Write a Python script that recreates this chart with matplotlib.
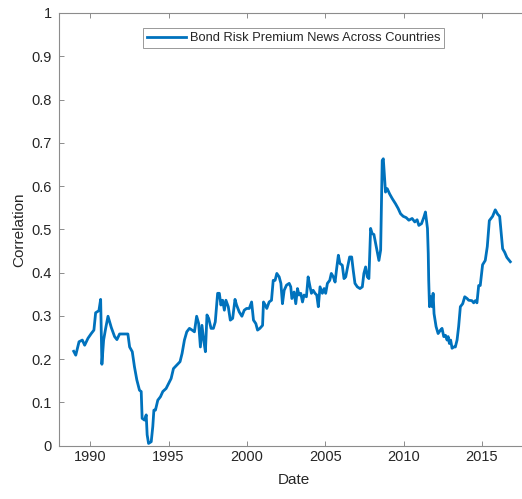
import matplotlib.pyplot as plt

plt.rcParams['font.family'] = ['Liberation Sans', 'DejaVu Sans']

# monthly correlation of bond risk premium news across countries
dates = [
    1988.94, 1989.07, 1989.28, 1989.49, 1989.64, 1989.85, 1990.06, 1990.23, 1990.34, 1990.55,
    1990.66, 1990.74, 1990.85, 1990.98, 1991.13, 1991.34, 1991.55, 1991.70, 1991.87, 1992.40,
    1992.51, 1992.68, 1992.82, 1992.97, 1993.14, 1993.25, 1993.31, 1993.46, 1993.57, 1993.63,
    1993.72, 1993.89, 1993.99, 1994.06, 1994.16, 1994.31, 1994.48, 1994.63, 1994.84, 1995.01,
    1995.16, 1995.31, 1995.52, 1995.73, 1995.86, 1996.01, 1996.16, 1996.33, 1996.50, 1996.65,
    1996.79, 1996.92, 1997.03, 1997.13, 1997.24, 1997.35, 1997.45, 1997.56, 1997.71, 1997.86,
    1997.98, 1998.13, 1998.24, 1998.34, 1998.45, 1998.56, 1998.66, 1998.81, 1998.94, 1999.09,
    1999.24, 1999.34, 1999.51, 1999.68, 1999.83, 1999.98, 2000.15, 2000.30, 2000.42, 2000.57,
    2000.68, 2000.83, 2001.00, 2001.06, 2001.17, 2001.27, 2001.42, 2001.57, 2001.68, 2001.80,
    2001.91, 2002.06, 2002.17, 2002.27, 2002.38, 2002.53, 2002.70, 2002.80, 2002.87, 2003.01,
    2003.12, 2003.23, 2003.33, 2003.44, 2003.55, 2003.65, 2003.80, 2003.91, 2004.01, 2004.12,
    2004.23, 2004.35, 2004.46, 2004.56, 2004.67, 2004.82, 2004.93, 2005.03, 2005.14, 2005.29,
    2005.39, 2005.52, 2005.63, 2005.73, 2005.84, 2005.94, 2006.09, 2006.20, 2006.31, 2006.41,
    2006.56, 2006.69, 2006.79, 2006.90, 2007.05, 2007.22, 2007.37, 2007.47, 2007.58, 2007.69,
    2007.79, 2007.90, 2008.00, 2008.11, 2008.22, 2008.43, 2008.54, 2008.64, 2008.71, 2008.79,
    2008.85, 2008.96, 2009.11, 2009.28, 2009.49, 2009.66, 2009.81, 2009.98, 2010.17, 2010.34,
    2010.55, 2010.72, 2010.87, 2010.98, 2011.15, 2011.30, 2011.40, 2011.53, 2011.58, 2011.61,
    2011.66, 2011.74, 2011.83, 2011.89, 2011.95, 2012.08, 2012.21, 2012.36, 2012.46, 2012.57,
    2012.68, 2012.78, 2012.85, 2012.93, 2013.01, 2013.10, 2013.21, 2013.31, 2013.42, 2013.52,
    2013.63, 2013.78, 2013.91, 2014.06, 2014.16, 2014.37, 2014.48, 2014.59, 2014.69, 2014.80,
    2014.90, 2015.05, 2015.22, 2015.35, 2015.48, 2015.69, 2015.86, 2016.01, 2016.14, 2016.24,
    2016.33, 2016.46, 2016.60, 2016.82,
]
correlation = [
    0.218, 0.209, 0.240, 0.244, 0.232, 0.248, 0.259, 0.267, 0.307, 0.312,
    0.338, 0.188, 0.244, 0.271, 0.299, 0.273, 0.252, 0.245, 0.258, 0.258,
    0.228, 0.217, 0.182, 0.152, 0.128, 0.125, 0.063, 0.059, 0.071, 0.025,
    0.005, 0.009, 0.044, 0.082, 0.082, 0.105, 0.113, 0.125, 0.132, 0.144,
    0.155, 0.178, 0.186, 0.194, 0.213, 0.244, 0.263, 0.271, 0.267, 0.263,
    0.299, 0.282, 0.228, 0.278, 0.244, 0.217, 0.302, 0.294, 0.271, 0.271,
    0.286, 0.352, 0.352, 0.325, 0.336, 0.313, 0.336, 0.321, 0.290, 0.294,
    0.338, 0.325, 0.309, 0.299, 0.313, 0.317, 0.317, 0.332, 0.290, 0.282,
    0.267, 0.271, 0.278, 0.332, 0.325, 0.317, 0.332, 0.336, 0.382, 0.382,
    0.398, 0.390, 0.375, 0.328, 0.359, 0.371, 0.375, 0.367, 0.340, 0.355,
    0.328, 0.363, 0.348, 0.352, 0.332, 0.348, 0.344, 0.390, 0.371, 0.352,
    0.359, 0.352, 0.348, 0.321, 0.367, 0.352, 0.363, 0.352, 0.375, 0.382,
    0.398, 0.390, 0.378, 0.409, 0.440, 0.421, 0.417, 0.386, 0.390, 0.409,
    0.436, 0.436, 0.405, 0.375, 0.367, 0.363, 0.367, 0.398, 0.413, 0.390,
    0.386, 0.502, 0.490, 0.488, 0.467, 0.428, 0.452, 0.659, 0.663, 0.621,
    0.586, 0.594, 0.582, 0.571, 0.559, 0.548, 0.536, 0.530, 0.527, 0.521,
    0.525, 0.517, 0.522, 0.509, 0.513, 0.528, 0.540, 0.502, 0.444, 0.382,
    0.321, 0.344, 0.321, 0.352, 0.305, 0.275, 0.259, 0.267, 0.271, 0.252,
    0.255, 0.244, 0.252, 0.236, 0.244, 0.225, 0.228, 0.228, 0.244, 0.275,
    0.321, 0.328, 0.344, 0.340, 0.336, 0.335, 0.330, 0.335, 0.330, 0.370,
    0.370, 0.418, 0.428, 0.460, 0.520, 0.530, 0.545, 0.535, 0.530, 0.490,
    0.455, 0.447, 0.435, 0.425,
]

x_ticks = [1990, 1995, 2000, 2005, 2010, 2015]
y_ticks = [0, 0.1, 0.2, 0.3, 0.4, 0.5, 0.6, 0.7, 0.8, 0.9, 1]
y_labels = ['0', '0.1', '0.2', '0.3', '0.4', '0.5', '0.6', '0.7', '0.8', '0.9', '1']

fig = plt.figure(figsize=(5.22, 4.99), dpi=100)
ax = fig.add_axes([0.113, 0.107, 0.900, 0.867])

ax.plot(dates, correlation, color='#0072BD', linewidth=2.0,
        label='Bond Risk Premium News Across Countries')

ax.set_xlim(1988, 2018)
ax.set_ylim(0, 1)
ax.set_xticks(x_ticks)
ax.set_yticks(y_ticks)
ax.set_yticklabels(y_labels)

axis_grey = '#8c8c8c'
for side in ['left', 'bottom', 'top', 'right']:
    ax.spines[side].set_color(axis_grey)
    ax.spines[side].set_linewidth(0.8)
ax.tick_params(direction='in', length=3.5, width=0.7, color=axis_grey,
               labelsize=10.5, labelcolor='#262626', top=True, right=True)
ax.tick_params(axis='x', pad=3.5)
ax.tick_params(axis='y', pad=5)

ax.set_xlabel('Date', fontsize=11, color='#262626', labelpad=6)
ax.set_ylabel('Correlation', fontsize=11, color='#262626', labelpad=4)

leg = ax.legend(loc='upper center', bbox_to_anchor=(0.5, 0.965), fontsize=9.3,
                fancybox=False, framealpha=1, edgecolor='#999999',
                handlelength=3.0, handletextpad=0.3, borderpad=0.3,
                borderaxespad=0)
leg.get_frame().set_linewidth(0.7)
for t in leg.get_texts():
    t.set_color('#262626')

plt.savefig('out.png', dpi=100)
